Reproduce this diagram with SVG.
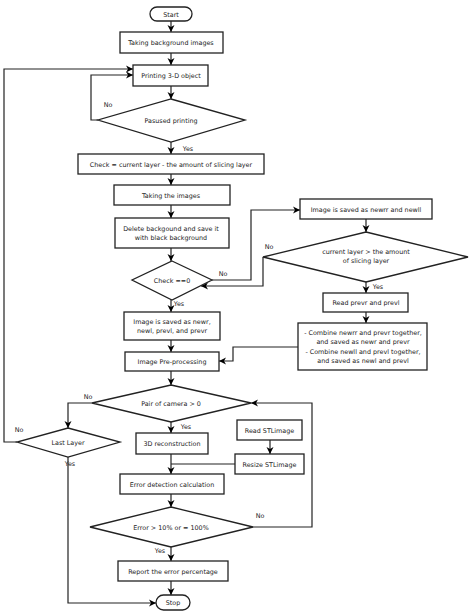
<svg xmlns="http://www.w3.org/2000/svg" width="474" height="616" viewBox="0 0 474 616">
<defs>
<marker id="ah" markerWidth="8" markerHeight="8" refX="7" refY="4" orient="auto" markerUnits="userSpaceOnUse">
<path d="M0,0.5 L7,4 L0,7.5 L2,4 Z" fill="#000"/>
</marker>
</defs>
<style>
.n rect,.n polygon{fill:#fff;stroke:#222;stroke-width:1.3}
text{font-family:"DejaVu Sans","Liberation Sans",sans-serif;font-size:6.4px;fill:#222;text-anchor:middle}
.c path{fill:none;stroke:#222;stroke-width:1.2}
.a{marker-end:url(#ah)}
.l{text-anchor:start}
</style>
<rect width="474" height="616" fill="#fff"/>
<g class="c">
<path class="a" d="M171,21 V32"/>
<path class="a" d="M171,53 V65"/>
<path class="a" d="M171,86 V99"/>
<path class="a" d="M98,120 H91 V75 H133"/>
<path class="a" d="M171,142 V154"/>
<path class="a" d="M171,174 V185"/>
<path class="a" d="M171,205 V218"/>
<path class="a" d="M171,248 V261"/>
<path class="a" d="M212,280 H251 V210 H300"/>
<path class="a" d="M171,300 V312"/>
<path class="a" d="M366,219 V232"/>
<path class="a" d="M263,257 V286 H201"/>
<path class="a" d="M366,282 V293"/>
<path class="a" d="M366,312 V323"/>
<path class="a" d="M298,347 H233 V361 H219"/>
<path class="a" d="M171,340 V352"/>
<path class="a" d="M171,371 V385"/>
<path class="a" d="M92,403 H68 V428"/>
<path class="a" d="M171,422 V433"/>
<path class="a" d="M270,440 V454"/>
<path class="a" d="M171,454 V474"/>
<path d="M235,464 H171"/>
<path class="a" d="M171,494 V507"/>
<path class="a" d="M253,527 H312 V403 H251"/>
<path class="a" d="M171,547 V561"/>
<path class="a" d="M171,581 V595"/>
<path class="a" d="M68,457 V603 H156"/>
<path class="a" d="M17,442 H4 V69 H133"/>
<text x="108" y="107">No</text>
<text x="188" y="151">Yes</text>
<text x="223" y="276">No</text>
<text x="179" y="306">Yes</text>
<text x="269" y="249">No</text>
<text x="378" y="289">Yes</text>
<text x="88" y="399">No</text>
<text x="186" y="429">Yes</text>
<text x="19" y="432">No</text>
<text x="70" y="466">Yes</text>
<text x="260" y="518">No</text>
<text x="160" y="553">Yes</text>
</g>
<g id="start" class="n"><rect x="150" y="7" width="42" height="14" rx="7"/><text x="171" y="16.5">Start</text></g>
<g id="bg" class="n"><rect x="120" y="32" width="103" height="21"/><text x="171" y="45">Taking background images</text></g>
<g id="print" class="n"><rect x="133" y="65" width="75" height="21"/><text x="171" y="78">Printing 3-D object</text></g>
<g id="paused" class="n"><polygon points="171,99 245,120 171,142 98,120"/><text x="171" y="123">Pasused printing</text></g>
<g id="check" class="n"><rect x="78" y="154" width="186" height="20"/><text x="171" y="166.5">Check = current layer - the amount of slicing layer</text></g>
<g id="taking" class="n"><rect x="114" y="185" width="116" height="20"/><text x="171" y="197.5">Taking the images</text></g>
<g id="delete" class="n"><rect x="115" y="218" width="114" height="30"/><text x="171" y="231">Delete backgound and save it</text><text x="171" y="240">with black background</text></g>
<g id="check0" class="n"><polygon points="172,261 212,280 172,300 132,280"/><text x="172" y="282.5">Check ==0</text></g>
<g id="saved1" class="n"><rect x="300" y="199" width="132" height="20"/><text x="366" y="211.5">Image is saved as newrr and newll</text></g>
<g id="curlayer" class="n"><polygon points="366,232 468,257 366,282 263,257"/><text x="366" y="254">current layer &gt; the amount</text><text x="366" y="263">of slicing layer</text></g>
<g id="readprev" class="n"><rect x="323" y="293" width="85" height="19"/><text x="366" y="305">Read prevr and prevl</text></g>
<g id="combine" class="n"><rect x="298" y="323" width="129" height="47"/><text x="363" y="335">- Combine newrr and prevr together,</text><text x="363" y="343.5">and saved as newr and prevr</text><text x="363" y="354">- Combine newll and prevl together,</text><text x="363" y="362.5">and saved as newl and prevl</text></g>
<g id="saved2" class="n"><rect x="124" y="312" width="96" height="28"/><text x="172" y="324">Image is saved as newr,</text><text x="172" y="332.5">newl, prevl, and prevr</text></g>
<g id="preproc" class="n"><rect x="125" y="352" width="94" height="19"/><text x="172" y="364">Image Pre-processing</text></g>
<g id="pair" class="n"><polygon points="171,385 251,403 171,422 92,403"/><text x="171" y="405.5">Pair of camera &gt; 0</text></g>
<g id="last" class="n"><polygon points="68,428 120,442 68,457 17,442"/><text x="68" y="444.5">Last Layer</text></g>
<g id="recon" class="n"><rect x="136" y="433" width="72" height="21"/><text x="172" y="446">3D reconstruction</text></g>
<g id="readstl" class="n"><rect x="237" y="420" width="65" height="20"/><text x="269.5" y="432.5">Read STLimage</text></g>
<g id="resize" class="n"><rect x="235" y="454" width="69" height="20"/><text x="269.5" y="466.5">Resize STLimage</text></g>
<g id="errcalc" class="n"><rect x="120" y="474" width="104" height="20"/><text x="172" y="486.5">Error detection calculation</text></g>
<g id="errdec" class="n"><polygon points="171,507 253,527 171,547 90,527"/><text x="171" y="529.5">Error &gt; 10% or = 100%</text></g>
<g id="report" class="n"><rect x="118" y="561" width="110" height="20"/><text x="173" y="573.5">Report the error percentage</text></g>
<g id="stop" class="n"><rect x="156" y="595" width="34" height="15" rx="7.5"/><text x="173" y="605">Stop</text></g>
</svg>
